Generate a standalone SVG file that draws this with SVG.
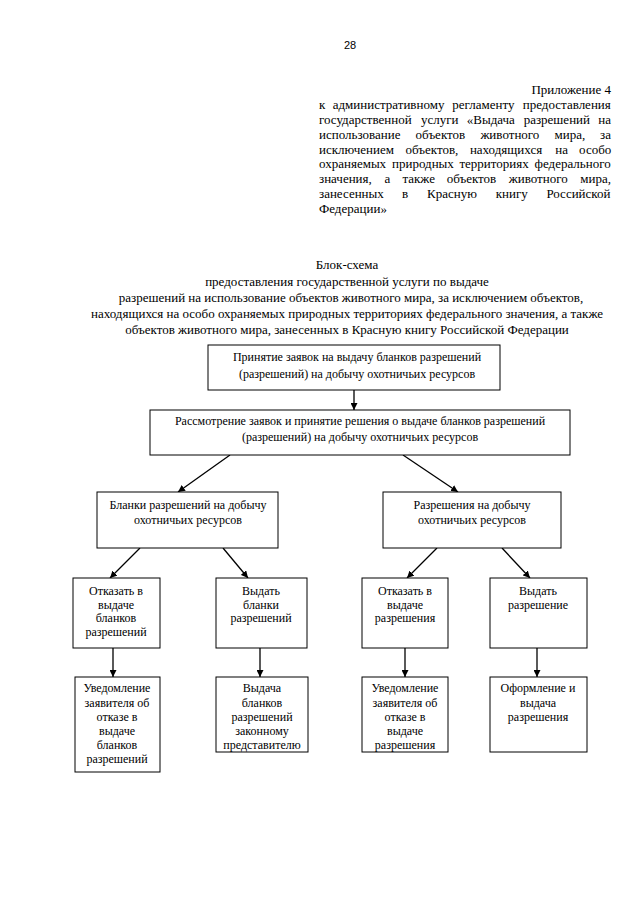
<svg xmlns="http://www.w3.org/2000/svg" width="640" height="905" viewBox="0 0 640 905">
<style>
text{font-family:"Liberation Serif","Times New Roman",serif;font-size:12px;fill:#000}
.h{font-size:13px}
.t{font-size:13px}
.n{font-family:"Liberation Sans",Arial,sans-serif;font-size:11px}
.c{text-anchor:middle}
.e{text-anchor:end}
.box{fill:#fff;stroke:#000;stroke-width:1}
.ln{stroke:#000;stroke-width:1.3;fill:none;marker-end:url(#ah)}
</style>
<defs>
<marker id="ah" viewBox="0 0 10 10" refX="10" refY="5" markerWidth="7" markerHeight="7" markerUnits="userSpaceOnUse" orient="auto">
<path d="M0,0 L10,5 L0,10 z" fill="#000"/>
</marker>
</defs>
<rect width="640" height="905" fill="#fff"/>
<text class="n c" x="350" y="49">28</text>
<g id="header">
<text class="h e" x="611" y="94">Приложение 4</text>
<text class="h" y="109"><tspan x="319">к</tspan><tspan x="332.7">административному</tspan><tspan x="452.3">регламенту</tspan><tspan x="522.8">предоставления</tspan></text>
<text class="h" y="124"><tspan x="319">государственной</tspan><tspan x="421">услуги</tspan><tspan x="466.8">«Выдача</tspan><tspan x="523.7">разрешений</tspan><tspan x="598.3">на</tspan></text>
<text class="h" y="139"><tspan x="319">использование</tspan><tspan x="415.6">объектов</tspan><tspan x="480.4">животного</tspan><tspan x="554.6">мира,</tspan><tspan x="600.1">за</tspan></text>
<text class="h" y="154"><tspan x="319">исключением</tspan><tspan x="405.5">объектов,</tspan><tspan x="469.9">находящихся</tspan><tspan x="555.2">на</tspan><tspan x="579.1">особо</tspan></text>
<text class="h" y="168"><tspan x="319">охраняемых</tspan><tspan x="392">природных</tspan><tspan x="459.4">территориях</tspan><tspan x="534.5">федерального</tspan></text>
<text class="h" y="183"><tspan x="319">значения,</tspan><tspan x="384.6">а</tspan><tspan x="402.4">также</tspan><tspan x="446.7">объектов</tspan><tspan x="508.8">животного</tspan><tspan x="580.3">мира,</tspan></text>
<text class="h" y="198"><tspan x="319">занесенных</tspan><tspan x="402.1">в</tspan><tspan x="427.1">Красную</tspan><tspan x="495.7">книгу</tspan><tspan x="546.4">Российской</tspan></text>
<text class="h" x="319" y="213">Федерации»</text>
</g>
<g id="title">
<text class="t c" x="347" y="269">Блок-схема</text>
<text class="t c" x="347" y="286">предоставления государственной услуги по выдаче</text>
<text class="t c" x="351" y="302">разрешений на использование объектов животного мира, за исключением объектов,</text>
<text class="t c" x="347" y="318">находящихся на особо охраняемых природных территориях федерального значения, а также</text>
<text class="t c" x="347" y="334">объектов животного мира, занесенных в Красную книгу Российской Федерации</text>
</g>
<g id="connectors">
<line class="ln" x1="354" y1="390" x2="354" y2="410"/>
<line class="ln" x1="230" y1="455" x2="178" y2="492"/>
<line class="ln" x1="403" y1="455" x2="458" y2="492"/>
<line class="ln" x1="140" y1="548" x2="110" y2="578"/>
<line class="ln" x1="223" y1="548" x2="248" y2="578"/>
<line class="ln" x1="437" y1="548" x2="407" y2="578"/>
<line class="ln" x1="502" y1="548" x2="530" y2="578"/>
<line class="ln" x1="113" y1="648" x2="113" y2="677"/>
<line class="ln" x1="260" y1="648" x2="260" y2="677"/>
<line class="ln" x1="405" y1="648" x2="405" y2="677"/>
<line class="ln" x1="537" y1="648" x2="537" y2="677"/>
</g>
<g id="n1"><rect class="box" x="208" y="345" width="292" height="45"/>
<text class="c" x="357" y="361">Принятие заявок на выдачу бланков разрешений</text>
<text class="c" x="357" y="378">(разрешений) на добычу охотничьих ресурсов</text></g>
<g id="n2"><rect class="box" x="150" y="410" width="420" height="45"/>
<text class="c" x="360" y="425">Рассмотрение заявок и принятие решения о выдаче бланков разрешений</text>
<text class="c" x="360" y="441">(разрешений) на добычу охотничьих ресурсов</text></g>
<g id="n3"><rect class="box" x="97" y="492" width="181" height="56"/>
<text class="c" x="188" y="509">Бланки разрешений на добычу</text>
<text class="c" x="188" y="524">охотничьих ресурсов</text></g>
<g id="n4"><rect class="box" x="383" y="492" width="178" height="56"/>
<text class="c" x="472" y="509">Разрешения на добычу</text>
<text class="c" x="472" y="524">охотничьих ресурсов</text></g>
<g id="n5"><rect class="box" x="73" y="578" width="87" height="70"/>
<text class="c" x="116" y="595">Отказать в</text>
<text class="c" x="116" y="609">выдаче</text>
<text class="c" x="116" y="622">бланков</text>
<text class="c" x="116" y="636">разрешений</text></g>
<g id="n6"><rect class="box" x="216" y="578" width="91" height="70"/>
<text class="c" x="261" y="595">Выдать</text>
<text class="c" x="261" y="609">бланки</text>
<text class="c" x="261" y="622">разрешений</text></g>
<g id="n7"><rect class="box" x="362" y="578" width="86" height="70"/>
<text class="c" x="405" y="595">Отказать в</text>
<text class="c" x="405" y="609">выдаче</text>
<text class="c" x="405" y="622">разрешения</text></g>
<g id="n8"><rect class="box" x="490" y="578" width="97" height="70"/>
<text class="c" x="538" y="595">Выдать</text>
<text class="c" x="538" y="609">разрешение</text></g>
<g id="n9"><rect class="box" x="75" y="677" width="85" height="95"/>
<text class="c" x="117" y="692">Уведомление</text>
<text class="c" x="117" y="707">заявителя об</text>
<text class="c" x="117" y="721">отказе в</text>
<text class="c" x="117" y="735">выдаче</text>
<text class="c" x="117" y="749">бланков</text>
<text class="c" x="117" y="763">разрешений</text></g>
<g id="n10"><rect class="box" x="216" y="677" width="92" height="75"/>
<text class="c" x="262" y="692">Выдача</text>
<text class="c" x="262" y="707">бланков</text>
<text class="c" x="262" y="721">разрешений</text>
<text class="c" x="262" y="735">законному</text>
<text class="c" x="262" y="749">представителю</text></g>
<g id="n11"><rect class="box" x="362" y="677" width="86" height="75"/>
<text class="c" x="405" y="692">Уведомление</text>
<text class="c" x="405" y="707">заявителя об</text>
<text class="c" x="405" y="721">отказе в</text>
<text class="c" x="405" y="735">выдаче</text>
<text class="c" x="405" y="749">разрешения</text></g>
<g id="n12"><rect class="box" x="490" y="677" width="97" height="75"/>
<text class="c" x="538" y="692">Оформление и</text>
<text class="c" x="538" y="707">выдача</text>
<text class="c" x="538" y="721">разрешения</text></g>
</svg>
